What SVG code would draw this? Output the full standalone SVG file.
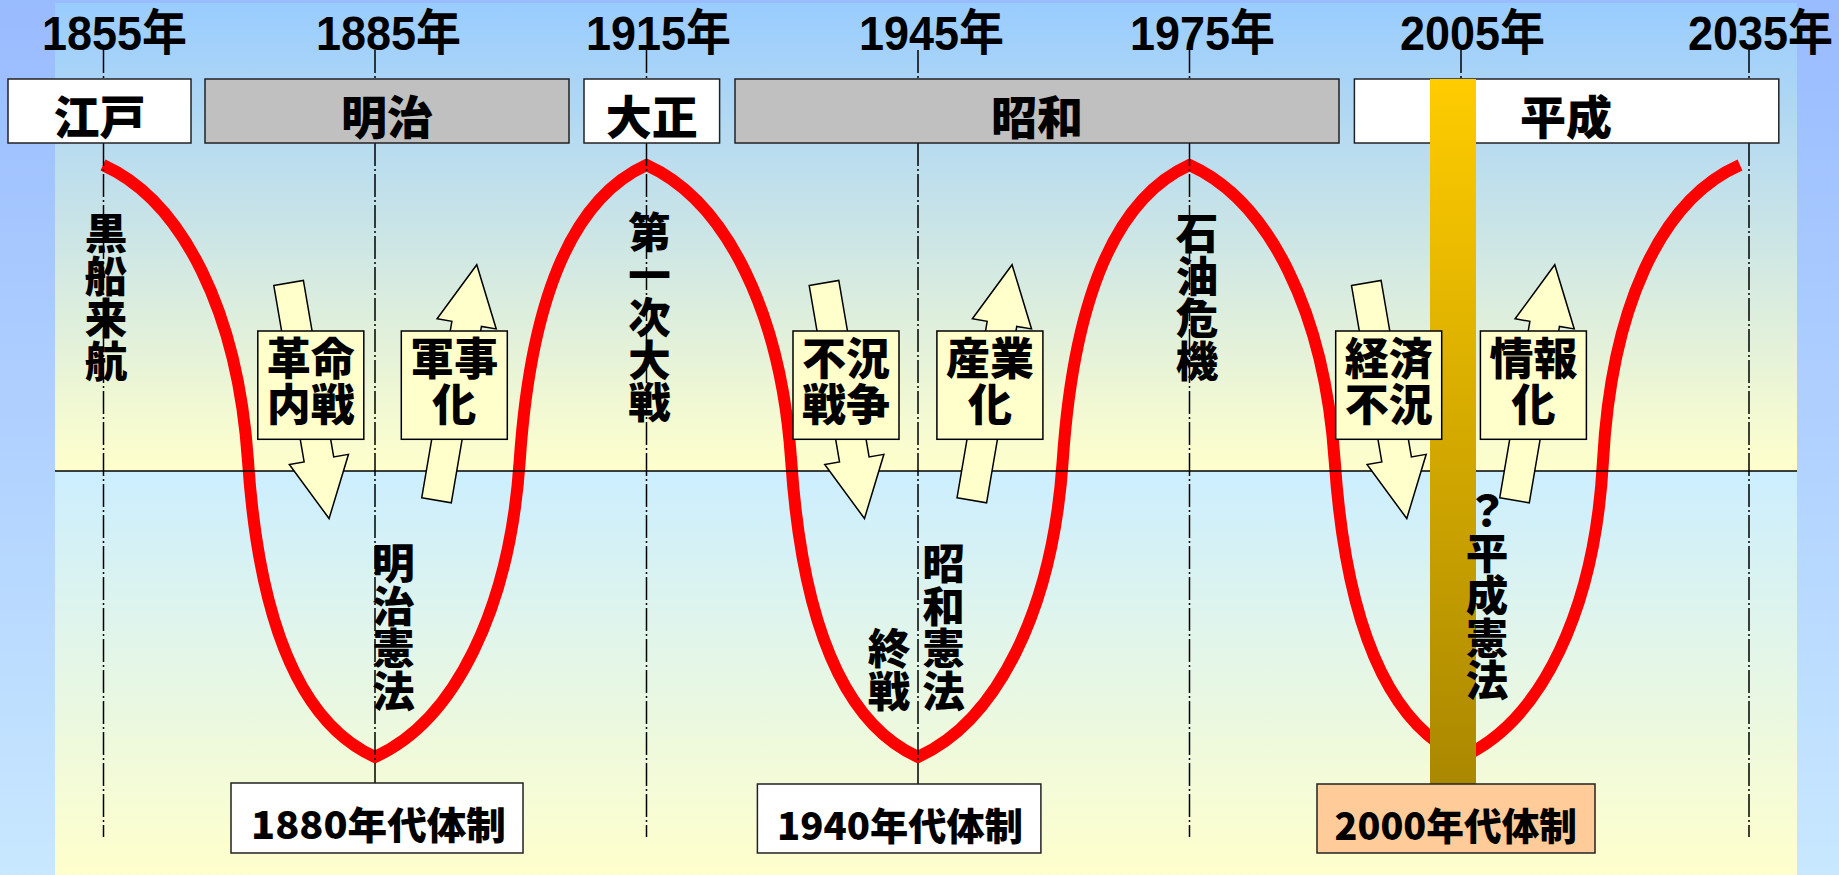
<svg xmlns="http://www.w3.org/2000/svg" width="1839" height="875" viewBox="0 0 1839 875">
<defs>
<linearGradient id="gOuter" x1="0" y1="0" x2="0" y2="1"><stop offset="0" stop-color="#99bbff"/><stop offset="1" stop-color="#c8e8ff"/></linearGradient>
<linearGradient id="gUp" x1="0" y1="0" x2="0" y2="1"><stop offset="0" stop-color="#99ccff"/><stop offset="1" stop-color="#ffffcc"/></linearGradient>
<linearGradient id="gLow" x1="0" y1="0" x2="0" y2="1"><stop offset="0" stop-color="#cceeff"/><stop offset="1" stop-color="#ffffcc"/></linearGradient>
<linearGradient id="gBar" x1="0" y1="0" x2="0" y2="1"><stop offset="0" stop-color="#ffcc00"/><stop offset="1" stop-color="#aa8800"/></linearGradient>
<polygon id="arrDown" points="-15,0 15,0 15,179 30,179 0,239 -30,179 -15,179"/>
<polygon id="arrUp" points="-15,0 15,0 15,-179 30,-179 0,-239 -30,-179 -15,-179"/>
</defs>
<style>
.yr{font-family:"Liberation Sans","Noto Sans CJK JP",sans-serif;font-weight:bold;font-size:49px;fill:#000}
.era{font-family:"Noto Sans CJK JP",sans-serif;font-weight:900;font-size:46px;text-anchor:middle;fill:#000}
.lbl{font-family:"Noto Sans CJK JP",sans-serif;font-weight:900;font-size:44px;text-anchor:middle;fill:#000}
.vt{font-family:"Noto Sans CJK JP",sans-serif;font-weight:900;font-size:42.5px;writing-mode:vertical-rl;fill:#000}
.sys{font-family:"Noto Sans CJK JP",sans-serif;font-weight:900;font-size:38px;fill:#000}
.box{stroke:#222;stroke-width:1.5}
.arrow{fill:#ffffcc;stroke:#000;stroke-width:1.5;stroke-linejoin:miter}
.nbox{fill:#ffffcc;stroke:#000;stroke-width:1.5}
.dash{stroke:#000;stroke-width:1.5;stroke-dasharray:23 3 2 3;fill:none}
</style>
<g id="background">
<rect x="0" y="0" width="1839" height="875" fill="url(#gOuter)"/>
<rect x="55" y="3" width="1742" height="468" fill="url(#gUp)"/>
<rect x="55" y="471" width="1742" height="404" fill="url(#gLow)"/>
</g>
<g id="connectors">
<path id="wave" d="M103,165 C183,201 238,313 248,461 S295,721 375,757 C454.8,720.9 509.7,609 519.7,461 S566.7,201.1 646.5,165 C726.3,201.1 781.2,313 791.2,461 S838.2,720.9 918,757 C997.8,720.9 1052.7,609 1062.7,461 S1109.7,201.1 1189.5,165 C1269.6,201.1 1324.7,313 1334.7,461 S1381.9,720.9 1462,757 C1542,721 1595,609 1603,461 S1658,201 1740,165" fill="none" stroke="#ff0000" stroke-width="12" stroke-linejoin="miter"/>
<line x1="55" y1="471" x2="1797" y2="471" stroke="#000" stroke-width="1.5"/>
<line class="dash" x1="103.5" y1="50" x2="103.5" y2="837"/>
<line class="dash" x1="375" y1="50" x2="375" y2="837"/>
<line class="dash" x1="646.5" y1="50" x2="646.5" y2="837"/>
<line class="dash" x1="918" y1="50" x2="918" y2="837"/>
<line class="dash" x1="1189.5" y1="50" x2="1189.5" y2="837"/>
<line class="dash" x1="1461" y1="50" x2="1461" y2="837"/>
<line class="dash" x1="1749" y1="50" x2="1749" y2="837"/>
</g>
<g id="years">
<text class="yr" transform="translate(42,50) scale(0.918,1)">1855年</text>
<text class="yr" transform="translate(316,50) scale(0.918,1)">1885年</text>
<text class="yr" transform="translate(586,50) scale(0.918,1)">1915年</text>
<text class="yr" transform="translate(859,50) scale(0.918,1)">1945年</text>
<text class="yr" transform="translate(1130,50) scale(0.918,1)">1975年</text>
<text class="yr" transform="translate(1400,50) scale(0.918,1)">2005年</text>
<text class="yr" transform="translate(1688,50) scale(0.918,1)">2035年</text>
</g>
<g id="era-edo"><rect class="box" x="8" y="79" width="183" height="64" fill="#fff"/><text class="era" x="99.5" y="134">江戸</text></g>
<g id="era-meiji"><rect class="box" x="205" y="79" width="364" height="64" fill="#c0c0c0"/><text class="era" x="387" y="134">明治</text></g>
<g id="era-taisho"><rect class="box" x="584" y="79" width="135.6" height="64" fill="#fff"/><text class="era" x="651.8" y="134">大正</text></g>
<g id="era-showa"><rect class="box" x="735" y="79" width="604" height="64" fill="#c0c0c0"/><text class="era" x="1037" y="134">昭和</text></g>
<g id="era-heisei"><rect class="box" x="1354.4" y="79" width="424.4" height="64" fill="#fff"/><text class="era" x="1566" y="134">平成</text></g>
<g id="bar2000"><rect x="1430" y="79" width="46" height="705" fill="url(#gBar)"/></g>
<g id="lbl-kurofune"><text class="vt" x="106" y="212">黒船来航</text></g>
<g id="lbl-ww1"><text class="vt" x="649.4" y="211">第一次大戦</text></g>
<g id="lbl-oil"><text class="vt" x="1197" y="212">石油危機</text></g>
<g id="lbl-meiji-const"><text class="vt" x="393.4" y="542">明治憲法</text></g>
<g id="lbl-showa-const"><text class="vt" x="943.5" y="542">昭和憲法</text></g>
<g id="lbl-shusen"><text class="vt" x="889" y="627">終戦</text></g>
<g id="lbl-heisei-const"><text class="vt" x="1487" y="489">？平成憲法</text></g>
<g id="n-kakumei">
<use href="#arrDown" class="arrow" transform="translate(288.6,283) rotate(-9.75)"/>
<rect class="nbox" x="257.8" y="331" width="106" height="108.3"/>
<text class="lbl"><tspan x="310.8" y="375">革命</tspan><tspan x="310.8" y="421">内戦</tspan></text>
</g>
<g id="n-gunji">
<use href="#arrUp" class="arrow" transform="translate(436.5,500.3) rotate(9.7)"/>
<rect class="nbox" x="401.3" y="331" width="106" height="108.3"/>
<text class="lbl"><tspan x="454.3" y="375">軍事</tspan><tspan x="454.3" y="421">化</tspan></text>
</g>
<g id="n-fukyo">
<use href="#arrDown" class="arrow" transform="translate(824,283) rotate(-9.75)"/>
<rect class="nbox" x="793" y="331" width="106" height="108.3"/>
<text class="lbl"><tspan x="846" y="375">不況</tspan><tspan x="846" y="421">戦争</tspan></text>
</g>
<g id="n-sangyo">
<use href="#arrUp" class="arrow" transform="translate(971.8,500.3) rotate(9.7)"/>
<rect class="nbox" x="936.9" y="331" width="106" height="108.3"/>
<text class="lbl"><tspan x="989.9" y="375">産業</tspan><tspan x="989.9" y="421">化</tspan></text>
</g>
<g id="n-keizai">
<use href="#arrDown" class="arrow" transform="translate(1366.3,283) rotate(-9.75)"/>
<rect class="nbox" x="1335.7" y="331" width="106" height="108.3"/>
<text class="lbl"><tspan x="1388.7" y="375">経済</tspan><tspan x="1388.7" y="421">不況</tspan></text>
</g>
<g id="n-joho">
<use href="#arrUp" class="arrow" transform="translate(1514.5,500.3) rotate(9.7)"/>
<rect class="nbox" x="1480.4" y="331" width="106" height="108.3"/>
<text class="lbl"><tspan x="1533.4" y="375">情報</tspan><tspan x="1533.4" y="421">化</tspan></text>
</g>
<g id="sys-1880"><rect class="box" x="231" y="783" width="292" height="70" fill="#fff"/><text class="sys" x="251" y="839" textLength="255" lengthAdjust="spacingAndGlyphs">1880年代体制</text></g>
<g id="sys-1940"><rect class="box" x="757.4" y="784" width="283.5" height="69" fill="#fff"/><text class="sys" x="777" y="840" textLength="246" lengthAdjust="spacingAndGlyphs">1940年代体制</text></g>
<g id="sys-2000"><rect class="box" x="1317" y="784" width="278" height="69" fill="#ffcc99"/><text class="sys" x="1334.5" y="840" textLength="242.5" lengthAdjust="spacingAndGlyphs">2000年代体制</text></g>
</svg>
